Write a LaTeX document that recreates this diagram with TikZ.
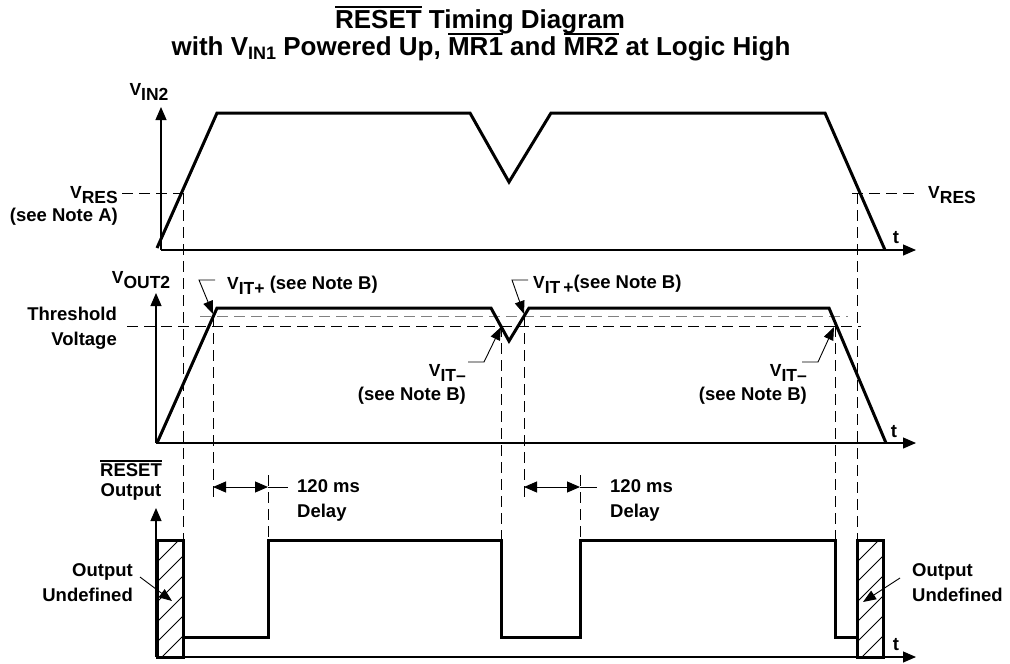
\documentclass[tikz,border=0pt]{standalone}
\usepackage{fontspec}
\setmainfont{Liberation Sans}
\usetikzlibrary{arrows.meta}
\newcommand\vsub[2]{{\fontsize{17.5}{19}\selectfont#1\raisebox{-5pt}{#2}}}
\newcommand\ovl[2][1.6pt]{\leavevmode\vbox{\hrule height #1\kern2pt\hbox{#2}}}

\begin{document}
\begin{tikzpicture}[x=1pt, y=-1pt,
  wave/.style={line width=3pt, line join=miter},
  axis/.style={line width=1.1pt, -{Triangle[length=13pt,width=11pt]}},
  guide/.style={line width=0.9pt, dash pattern=on 11pt off 6pt},
  lead/.style={line width=0.9pt, -{Triangle[length=13pt,width=10pt]}},
  lbl/.style={font=\fontsize{18.5}{25}\selectfont\bfseries, inner sep=0pt},
  ttl/.style={font=\fontsize{26}{28}\selectfont\bfseries, inner sep=0pt}]
\useasboundingbox (0,0) rectangle (1010,664);

% title
\node[ttl] (title1) at (480,20) {\ovl[2pt]{RESET} Timing Diagram};
\node[ttl] (title2) at (481,47) {with V\raisebox{-4pt}{\fontsize{18}{19}\selectfont IN1} Powered Up,
  \ovl[2pt]{MR1} and \ovl[2pt]{MR2} at Logic High};

% V_IN2
\draw[axis] (161,250) -- (161,107);
\draw[axis] (161,250) -- (916,250);
\node[lbl] (vin) at (149,92) {\vsub{V}{IN2}};
\node[lbl] (tin) at (896,238) {t};
\draw[wave] (157,248) -- (217,113) -- (470,113) -- (509,182) -- (551,113)
  -- (825,113) -- (885,250);
\draw[guide] (122,193) -- (190,193);
\draw[guide] (852,193) -- (920,193);
\node[lbl, anchor=east] (vresa) at (118,195) {\vsub{V}{RES}};
\node[lbl, anchor=east] (notea) at (118,217) {(see Note A)};
\node[lbl, anchor=west] (vresb) at (928,195) {\vsub{V}{RES}};

% V_OUT2
\draw[axis] (156,443) -- (156,293);
\draw[axis] (156,443) -- (916,443);
\node[lbl] (vout) at (141,280) {\vsub{V}{OUT2}};
\node[lbl] (tout) at (894,432) {t};
\draw[guide, gray] (200,316) -- (848,316);
\draw[guide] (127,326) -- (861,326);
\draw[wave] (157,443) -- (217,308) -- (491,308) -- (509,341) -- (529,308)
  -- (829,308) -- (886,443);
\node[lbl, align=right, anchor=east] (thr) at (117,328) {Threshold\\Voltage};
\node[lbl, anchor=west] (vitpa) at (227,285) {\vsub{V}{IT+} (see Note B)};
\node[lbl, anchor=west] (vitpb) at (533,284) {\vsub{V}{IT\,+}(see Note B)};
\node[lbl, anchor=east] (vitma) at (466,373) {\vsub{V}{IT--}};
\node[lbl, anchor=east] (notema) at (466,396) {(see Note B)};
\node[lbl, anchor=east] (vitmb) at (807,373) {\vsub{V}{IT--}};
\node[lbl, anchor=east] (notemb) at (807,396) {(see Note B)};
\draw[lead] (215,280) -- (199,280) -- (213,314);
\draw[lead] (528,280) -- (512,280) -- (524,314);
\draw[lead] (468,362) -- (484,362) -- (501,327);
\draw[lead] (802,362) -- (818,362) -- (834,327);

% guides down to RESET
\draw[guide] (183,193) -- (183,540);
\draw[guide] (857,193) -- (857,540);
\draw[guide] (213,316) -- (213,498);
\draw[guide] (268,475) -- (268,540);
\draw[guide] (501,326) -- (501,540);
\draw[guide] (524,316) -- (524,500);
\draw[guide] (580,475) -- (580,540);
\draw[guide] (835,326) -- (835,540);

% RESET output
\draw[axis] (156,657) -- (156,508);
\draw[axis] (156,657) -- (916,657);
\node[lbl, align=center] (rst) at (131,480) {\ovl[2pt]{RESET}\\[-5pt]Output};
\node[lbl] (trst) at (896,645) {t};
\draw[wave] (183,637) -- (268,637) -- (268,540) -- (501,540) -- (501,637)
  -- (580,637) -- (580,540) -- (835,540) -- (835,637) -- (857,637);
\foreach \xa/\xb in {157/183, 857/883} {
  \begin{scope}
    \clip (\xa,540) rectangle (\xb,657);
    \foreach \y in {522,542,...,702}
      \draw[line width=0.8pt] (\xa,\y) -- ++(40,-40);
  \end{scope}
  \draw[wave] (\xa,540) rectangle (\xb,657);
}
\draw[{Triangle[length=13pt,width=11pt]}-{Triangle[length=13pt,width=11pt]}, line width=1pt]
  (213,487) -- (268,487);
\draw[line width=1pt] (268,487) -- (288,487);
\draw[{Triangle[length=13pt,width=11pt]}-{Triangle[length=13pt,width=11pt]}, line width=1pt]
  (524,487) -- (580,487);
\draw[line width=1pt] (580,487) -- (597,487);
\node[lbl, align=left, anchor=west] (dla) at (297,500) {120 ms\\Delay};
\node[lbl, align=left, anchor=west] (dlb) at (610,500) {120 ms\\Delay};
\node[lbl, align=right, anchor=east] (unda) at (133,583) {Output\\Undefined};
\node[lbl, align=left, anchor=west] (undb) at (912,583) {Output\\Undefined};
\draw[lead] (140,577) -- (172,601);
\draw[lead] (900,578) -- (863,602);
\end{tikzpicture}
\end{document}
